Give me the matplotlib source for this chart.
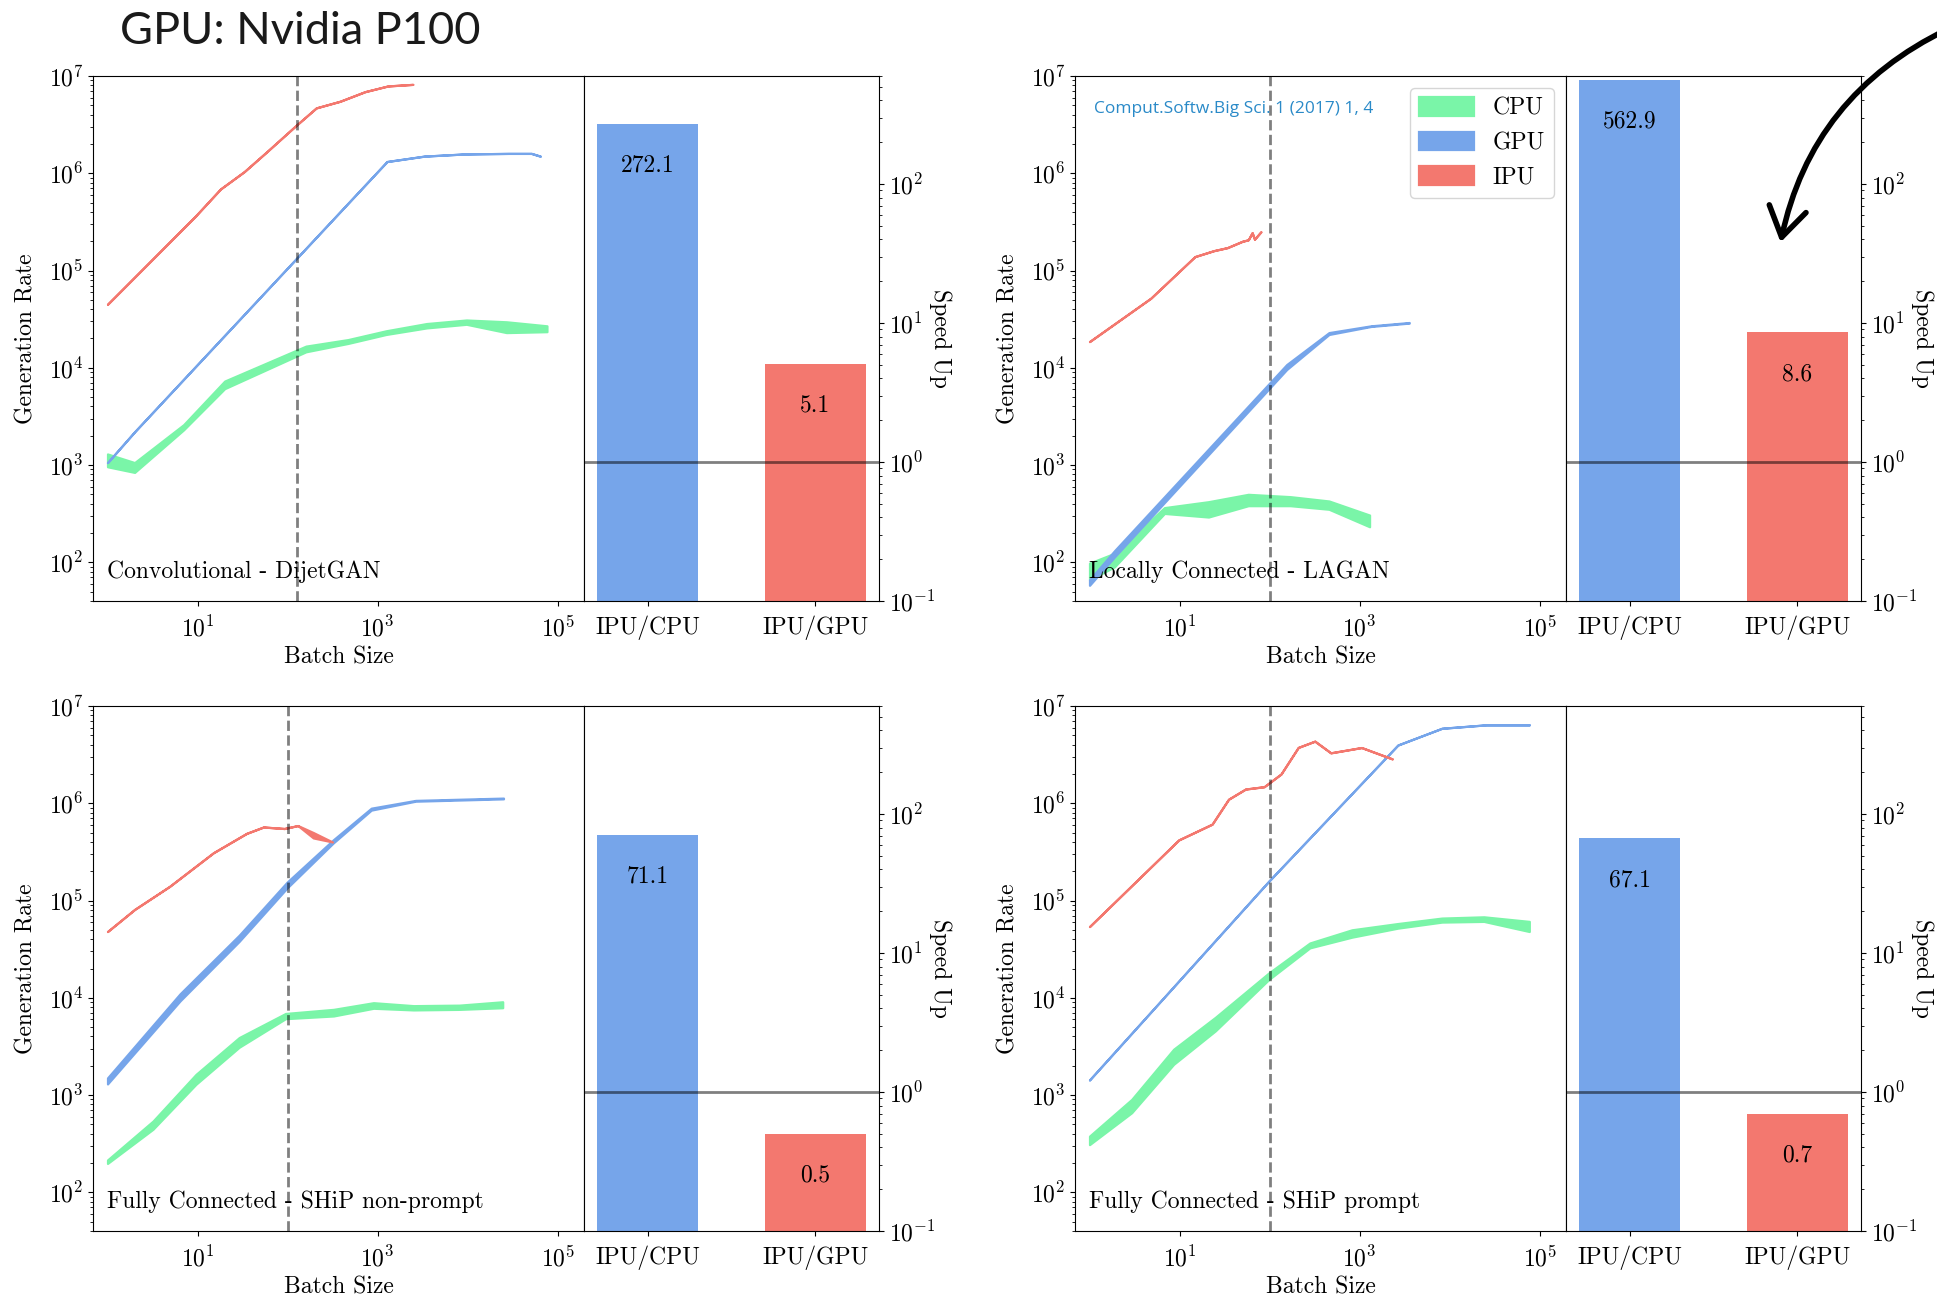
import numpy as np
import matplotlib
matplotlib.use("Agg")
import matplotlib.pyplot as plt
from matplotlib.patches import FancyArrowPatch
from matplotlib.ticker import LogLocator, NullFormatter, NullLocator

# speed-up bars
speedup_labels = ["IPU/CPU", "IPU/GPU"]
dijet_speedup = [272.1, 5.1]
lagan_speedup = [562.9, 8.6]
nonprompt_speedup = [71.1, 0.5]
prompt_speedup = [67.1, 0.7]

# Convolutional - DijetGAN
dijet_cpu_x = [1, 2, 7, 20, 160, 470, 1240, 3500, 9700, 27000, 76000]
dijet_cpu_hi = [1300, 1060, 2600, 7300, 16700, 19500, 24000, 28500, 31000, 29700, 27000]
dijet_cpu_lo = [960, 840, 2300, 6100, 14600, 17800, 22000, 25700, 28000, 23000, 23500]
dijet_gpu_x = [1, 2, 1270, 3300, 9300, 28500, 51000, 64000]
dijet_gpu = [1060, 2200, 1.32e6, 1.5e6, 1.58e6, 1.6e6, 1.6e6, 1.5e6]
dijet_ipu_x = [1, 9.4, 18, 33, 59, 124, 208, 383, 724, 1303, 2457]
dijet_ipu = [4.5e4, 3.6e5, 6.9e5, 1.04e6, 1.67e6, 3.1e6, 4.7e6, 5.5e6, 6.9e6, 7.9e6, 8.2e6]

# Locally Connected - LAGAN
lagan_cpu_x = [1, 1.9, 6.8, 21, 58, 170, 457, 1290]
lagan_cpu_hi = [98, 124, 365, 420, 500, 473, 427, 306]
lagan_cpu_lo = [66, 90, 318, 292, 382, 382, 351, 232]
lagan_gpu_x = [1, 1.9, 155, 457, 1340, 3560]
lagan_gpu_hi = [66, 132, 1.08e4, 2.3e4, 2.7e4, 2.92e4]
lagan_gpu_lo = [58, 114, 0.96e4, 2.2e4, 2.66e4, 2.88e4]
lagan_ipu_x = [1, 4.8, 14.8, 24, 34, 50, 58, 64, 68, 80]
lagan_ipu = [1.86e4, 5.2e4, 1.39e5, 1.6e5, 1.72e5, 2.0e5, 2.07e5, 2.45e5, 2.1e5, 2.5e5]

# Fully Connected - SHiP non-prompt
nonprompt_cpu_x = [1, 3.2, 9.6, 29, 95, 324, 900, 2500, 8100, 24500]
nonprompt_cpu_hi = [215, 540, 1630, 3900, 6900, 7600, 8900, 8300, 8400, 9100]
nonprompt_cpu_lo = [198, 445, 1290, 3100, 6100, 6500, 7800, 7500, 7600, 7900]
nonprompt_gpu_x = [1, 6.4, 29, 99, 321, 850, 2640, 25000]
nonprompt_gpu_hi = [1500, 1.1e4, 4.4e4, 1.55e5, 4.2e5, 8.9e5, 1.07e6, 1.13e6]
nonprompt_gpu_lo = [1300, 9.3e3, 3.8e4, 1.35e5, 3.9e5, 8.5e5, 1.05e6, 1.11e6]
nonprompt_ipu_x = [1, 2, 4.9, 15, 35, 54, 92, 130, 193, 315]
nonprompt_ipu_hi = [4.8e4, 8.1e4, 1.4e5, 3.1e5, 4.9e5, 5.7e5, 5.5e5, 5.9e5, 5.0e5, 4.0e5]
nonprompt_ipu_lo = [4.8e4, 8.1e4, 1.4e5, 3.1e5, 4.9e5, 5.7e5, 5.5e5, 5.9e5, 4.4e5, 4.0e5]

# Fully Connected - SHiP prompt
prompt_cpu_x = [1, 2.94, 8.6, 25, 98, 280, 822, 2660, 8200, 24000, 76700]
prompt_cpu_hi = [378, 902, 2960, 6300, 1.8e4, 3.66e4, 5.0e4, 5.8e4, 6.6e4, 6.8e4, 6.1e4]
prompt_cpu_lo = [309, 658, 2070, 4570, 1.54e4, 3.26e4, 4.2e4, 5.2e4, 6.0e4, 6.1e4, 4.8e4]
prompt_gpu_x = [1, 6.4, 98, 2660, 8200, 25400, 76700]
prompt_gpu = [1430, 9.6e3, 1.58e5, 3.97e6, 5.9e6, 6.4e6, 6.4e6]
prompt_ipu_x = [1, 9.8, 23, 35, 54, 87, 134, 208, 318, 478, 1050, 2300]
prompt_ipu = [5.4e4, 4.2e5, 6.1e5, 1.1e6, 1.4e6, 1.48e6, 2.0e6, 3.75e6, 4.35e6, 3.3e6, 3.74e6, 2.86e6]

CPU_COLOR = "#7af5a8"
GPU_COLOR = "#76a5ea"
IPU_COLOR = "#f3786f"

W, H = 1937, 1299

plt.rcParams.update({
    "font.family": "serif",
    "font.serif": ["cmr10"],
    "mathtext.fontset": "cm",
    "axes.formatter.use_mathtext": True,
    "font.size": 17,
    "axes.unicode_minus": False,
    "xtick.major.pad": 7,
    "axes.labelpad": 6,
})


def band(ax, x, lo, hi=None, color="k", label=None, lw=1.6):
    if hi is None:
        hi = lo
    ax.fill_between(x, lo, hi, color=color, lw=lw, label=label)


def panel(col, row, name, vline, cpu, gpu, ipu, speedup):
    left = [93, 1075][col] / W
    bar_left = [584, 1566][col] / W
    bottom = [1 - 601 / H, 1 - 1231 / H][row]
    height = 525 / H
    ax = fig.add_axes([left, bottom, 491 / W, height])
    axb = fig.add_axes([bar_left, bottom, 295 / W, height])

    band(ax, *cpu, color=CPU_COLOR, label="CPU")
    band(ax, *gpu, color=GPU_COLOR, label="GPU")
    band(ax, *ipu, color=IPU_COLOR, label="IPU")
    ax.axvline(vline, color="k", ls="--", lw=2, alpha=0.5)

    ax.set_xscale("log")
    ax.set_yscale("log")
    ax.set_xlim(0.69, 1.96e5)
    ax.set_ylim(40, 1e7)
    ax.set_xticks([10, 1e3, 1e5])
    ax.xaxis.set_minor_locator(NullLocator())
    ax.yaxis.set_major_locator(LogLocator(base=10, numticks=20))
    ax.yaxis.set_minor_locator(LogLocator(base=10, subs=np.arange(2, 10), numticks=100))
    ax.yaxis.set_minor_formatter(NullFormatter())
    ax.set_xlabel("Batch Size", labelpad=4)
    ax.set_ylabel("Generation Rate", labelpad=8)
    ax.text(0.028, 0.035, name, transform=ax.transAxes, ha="left", va="bottom")

    axb.bar([0, 1], speedup, width=0.6, color=[GPU_COLOR, IPU_COLOR])
    axb.set_yscale("log")
    axb.set_ylim(0.1, 600)
    axb.set_xlim(-0.38, 1.38)
    axb.axhline(1, color="k", lw=2, alpha=0.5)
    axb.set_xticks([0, 1])
    axb.set_xticklabels(speedup_labels)
    axb.yaxis.tick_right()
    axb.yaxis.set_label_position("right")
    axb.yaxis.set_major_locator(LogLocator(base=10, numticks=20))
    axb.yaxis.set_minor_locator(LogLocator(base=10, subs=np.arange(2, 10), numticks=100))
    axb.yaxis.set_minor_formatter(NullFormatter())
    axb.set_ylabel("Speed Up", rotation=270, labelpad=12)
    for i, v in enumerate(speedup):
        axb.text(i, v / 2, f"{v}", ha="center", va="center")
    return ax, axb


fig = plt.figure(figsize=(W / 100, H / 100), dpi=100)

panel(0, 0, "Convolutional - DijetGAN", 128,
      (dijet_cpu_x, dijet_cpu_lo, dijet_cpu_hi),
      (dijet_gpu_x, dijet_gpu),
      (dijet_ipu_x, dijet_ipu),
      dijet_speedup)
ax_lagan, _ = panel(1, 0, "Locally Connected - LAGAN", 100,
                    (lagan_cpu_x, lagan_cpu_lo, lagan_cpu_hi),
                    (lagan_gpu_x, lagan_gpu_lo, lagan_gpu_hi),
                    (lagan_ipu_x, lagan_ipu),
                    lagan_speedup)
panel(0, 1, "Fully Connected - SHiP non-prompt", 100,
      (nonprompt_cpu_x, nonprompt_cpu_lo, nonprompt_cpu_hi),
      (nonprompt_gpu_x, nonprompt_gpu_lo, nonprompt_gpu_hi),
      (nonprompt_ipu_x, nonprompt_ipu_lo, nonprompt_ipu_hi),
      nonprompt_speedup)
panel(1, 1, "Fully Connected - SHiP prompt", 100,
      (prompt_cpu_x, prompt_cpu_lo, prompt_cpu_hi),
      (prompt_gpu_x, prompt_gpu),
      (prompt_ipu_x, prompt_ipu),
      prompt_speedup)

ax_lagan.legend(loc="upper right", handlelength=2.3, handleheight=0.85)
ax_lagan.text(0.039, 0.938, "Comput.Softw.Big Sci. 1 (2017) 1, 4",
              transform=ax_lagan.transAxes, ha="left", va="center",
              color="#2a8ac8", family="Open Sans", fontsize=12.5)

fig.text(120 / W, 1 - 31 / H, "GPU: Nvidia P100", ha="left", va="center",
         family="Lato", fontsize=32.5, color="#1a1a1a")

arrow = FancyArrowPatch((1950 / W, 1 - 28 / H), (1780 / W, 1 - 245 / H),
                        transform=fig.transFigure,
                        connectionstyle="arc3,rad=0.25",
                        arrowstyle="->,head_length=0.7,head_width=0.45",
                        mutation_scale=30, lw=4, color="k")
fig.add_artist(arrow)

fig.savefig("out.png", dpi=100)
